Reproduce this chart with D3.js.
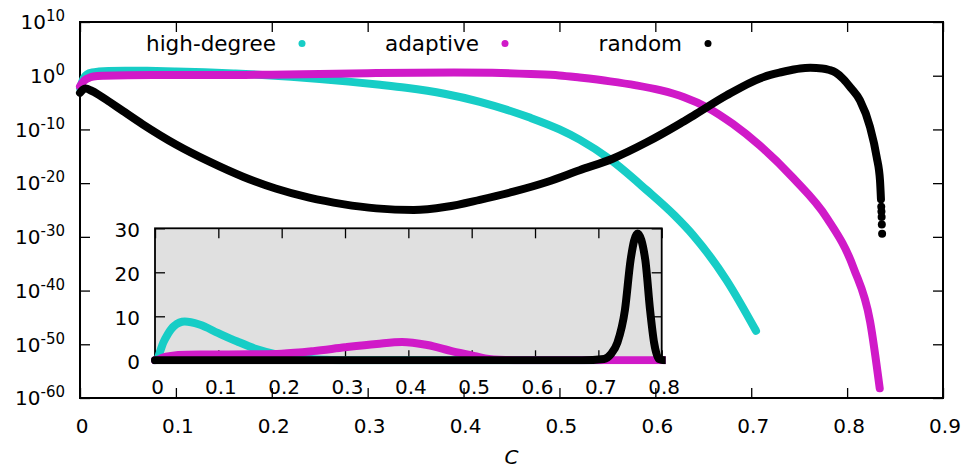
<!DOCTYPE html>
<html>
<head>
<meta charset="utf-8">
<script src="https://cdn.jsdelivr.net/npm/d3@7"></script>
<style>
  html, body { margin: 0; padding: 0; background: #ffffff; }
  svg { display: block; font-family: "DejaVu Sans", sans-serif; }
</style>
</head>
<body>
<svg id="chart" width="965" height="470"></svg>
<script>
// ---- data: C and log10 of the quantity for each strategy ----
const highDegreeC   = [0, 0.004, 0.008, 0.013, 0.02, 0.03, 0.047, 0.07, 0.1, 0.13, 0.16, 0.19, 0.22, 0.25, 0.28, 0.313, 0.34, 0.38, 0.417, 0.469, 0.5, 0.521, 0.553, 0.591, 0.62, 0.64, 0.674, 0.705];
const highDegreeLog = [-2.3, -0.4, 0.3, 0.6, 0.77, 0.89, 0.944, 0.91, 0.79, 0.63, 0.41, 0.15, -0.2, -0.62, -1.1, -1.7, -2.25, -3.35, -4.85, -7.8, -10.0, -11.9, -15.6, -21.3, -26.0, -29.8, -38.0, -47.5];

const adaptiveC   = [0, 0.004, 0.008, 0.014, 0.025, 0.05, 0.1, 0.15, 0.2, 0.25, 0.3, 0.35, 0.39, 0.43, 0.47, 0.5, 0.521, 0.553, 0.58, 0.605, 0.63, 0.654, 0.681, 0.709, 0.744, 0.779, 0.807, 0.824, 0.834];
const adaptiveLog = [-2.0, -1.0, -0.5, -0.15, 0.0, 0.1, 0.12, 0.14, 0.18, 0.32, 0.47, 0.57, 0.62, 0.54, 0.31, 0.05, -0.35, -1.05, -1.8, -2.7, -4.0, -5.9, -9.0, -13.0, -19.1, -26.5, -35.9, -45.8, -58.2];

const randomC   = [0, 0.003, 0.006, 0.012, 0.02, 0.031, 0.045, 0.065, 0.1, 0.135, 0.17, 0.204, 0.239, 0.274, 0.309, 0.348, 0.382, 0.417, 0.452, 0.487, 0.521, 0.556, 0.591, 0.626, 0.64, 0.674, 0.709, 0.72, 0.73, 0.742, 0.751, 0.7616, 0.774, 0.7816, 0.788, 0.796, 0.804, 0.8134, 0.8238, 0.8308, 0.8343, 0.8353];
const randomLog = [-3.2, -2.6, -2.4, -2.8, -3.6, -4.9, -6.6, -9.0, -12.8, -16.0, -18.8, -21.0, -22.7, -23.9, -24.7, -25.0, -24.4, -23.1, -21.6, -19.8, -17.6, -15.4, -12.4, -8.9, -7.4, -3.7, -0.5, 0.15, 0.6, 1.06, 1.36, 1.46, 1.36, 1.06, 0.6, -0.6, -2.3, -4.6, -9.5, -15.1, -19.5, -23.0];
// last, sparsely spaced points of the random curve
const randomTailC   = [0.8356, 0.8358, 0.836, 0.8362, 0.8365];
const randomTailLog = [-24.4, -25.3, -26.3, -27.7, -29.4];

// ---- axis ticks ----
const xTicksMain  = [0, 0.1, 0.2, 0.3, 0.4, 0.5, 0.6, 0.7, 0.8, 0.9];
const yExpMain    = [-60, -50, -40, -30, -20, -10, 0, 10];
const xTicksInset = [0, 0.1, 0.2, 0.3, 0.4, 0.5, 0.6, 0.7, 0.8];
const yTicksInset = [0, 10, 20, 30];

const seriesNames  = ["high-degree", "adaptive", "random"];
const seriesColors = ["#17cdc6", "#d01ac8", "#000000"];

const toPts = (cs, logs) => cs.map((c, i) => ({ c: c, v: Math.pow(10, logs[i]) }));
const series = [
  { name: seriesNames[0], color: seriesColors[0], pts: toPts(highDegreeC, highDegreeLog) },
  { name: seriesNames[1], color: seriesColors[1], pts: toPts(adaptiveC, adaptiveLog) },
  { name: seriesNames[2], color: seriesColors[2], pts: toPts(randomC, randomLog),
    tail: toPts(randomTailC, randomTailLog) }
];

const svg = d3.select("#chart");
const FS = 20;        // tick labels
const FS_KEY = 21.5;  // legend labels

// ---- main panel ----
const M = { left: 80, right: 943, top: 22, bottom: 398 };
const x = d3.scaleLinear().domain([0, 0.9]).range([M.left, M.right]);
const y = d3.scaleLog().domain([1e-60, 1e10]).range([M.bottom, M.top]);

const tickStyle = g => {
  g.select(".domain").remove();
  g.selectAll(".tick line").attr("stroke", "#000").attr("stroke-width", 1.3);
  g.selectAll(".tick text").remove();
};

const mainG = svg.append("g");
mainG.append("g").attr("transform", `translate(0,${M.bottom})`)
  .call(d3.axisBottom(x).tickValues(xTicksMain).tickSizeInner(-10).tickSizeOuter(0)).call(tickStyle);
mainG.append("g").attr("transform", `translate(0,${M.top})`)
  .call(d3.axisTop(x).tickValues(xTicksMain).tickSizeInner(-10).tickSizeOuter(0)).call(tickStyle);
const yTickVals = yExpMain.map(e => Math.pow(10, e));
mainG.append("g").attr("transform", `translate(${M.left},0)`)
  .call(d3.axisLeft(y).tickValues(yTickVals).tickSizeInner(-10).tickSizeOuter(0)).call(tickStyle);
mainG.append("g").attr("transform", `translate(${M.right},0)`)
  .call(d3.axisRight(y).tickValues(yTickVals).tickSizeInner(-10).tickSizeOuter(0)).call(tickStyle);

mainG.append("rect")
  .attr("x", M.left).attr("y", M.top)
  .attr("width", M.right - M.left).attr("height", M.bottom - M.top)
  .attr("fill", "none").attr("stroke", "#000").attr("stroke-width", 2);

// x tick labels
mainG.selectAll("text.xl").data(xTicksMain).join("text")
  .attr("class", "xl")
  .attr("x", d => x(d) + 2).attr("y", 432.5)
  .attr("text-anchor", "middle").attr("font-size", FS).attr("fill", "#000")
  .text(d => d3.format("")(d));

// y tick labels: 10 with superscript exponent
const yl = mainG.selectAll("text.yl").data(yExpMain).join("text")
  .attr("class", "yl")
  .attr("x", 65).attr("y", d => y(Math.pow(10, d)) + 7.3)
  .attr("text-anchor", "end").attr("font-size", FS).attr("fill", "#000");
yl.append("tspan").text("10");
yl.append("tspan").attr("dy", -8).attr("font-size", 15).text(d => String(d));

// axis title
svg.append("text")
  .attr("x", (M.left + M.right) / 2).attr("y", 464)
  .attr("text-anchor", "middle").attr("font-size", FS).attr("font-style", "italic")
  .text("C");

// main curves
svg.append("clipPath").attr("id", "mainClip").append("rect")
  .attr("x", M.left - 5).attr("y", M.top - 5)
  .attr("width", M.right - M.left + 10).attr("height", M.bottom - M.top + 10);

const mainLine = d3.line().x(d => x(d.c)).y(d => y(d.v)).curve(d3.curveMonotoneX);
const curvesG = svg.append("g").attr("clip-path", "url(#mainClip)");
series.forEach(s => {
  curvesG.append("path").datum(s.pts)
    .attr("d", mainLine)
    .attr("fill", "none").attr("stroke", s.color)
    .attr("stroke-width", 8).attr("stroke-linecap", "round").attr("stroke-linejoin", "round");
  if (s.tail) {
    curvesG.selectAll(null).data(s.tail).join("circle")
      .attr("cx", d => x(d.c)).attr("cy", d => y(d.v)).attr("r", 4)
      .attr("fill", s.color);
  }
});

// legend
const legendDotX = [302, 505, 708];
const legendY = 43.5;
const lg = svg.append("g");
series.forEach((s, i) => {
  lg.append("text")
    .attr("x", legendDotX[i] - 26).attr("y", legendY + 7.5)
    .attr("text-anchor", "end").attr("font-size", FS_KEY).attr("fill", "#000")
    .text(s.name);
  lg.append("circle")
    .attr("cx", legendDotX[i]).attr("cy", legendY).attr("r", 3.5)
    .attr("fill", s.color);
});

// ---- inset panel (linear scale) ----
const I = { left: 155, right: 661.7, top: 228.3, bottom: 360.3 };
const xi = d3.scaleLinear().domain([0, 0.8]).range([I.left, I.right]);
const yi = d3.scaleLinear().domain([0, 30]).range([I.bottom, I.top]);

const insetG = svg.append("g");
insetG.append("rect")
  .attr("x", I.left).attr("y", I.top)
  .attr("width", I.right - I.left).attr("height", I.bottom - I.top)
  .attr("fill", "#e0e0e0");

insetG.append("g").attr("transform", `translate(0,${I.bottom})`)
  .call(d3.axisBottom(xi).tickValues(xTicksInset).tickSizeInner(-10).tickSizeOuter(0)).call(tickStyle);
insetG.append("g").attr("transform", `translate(0,${I.top})`)
  .call(d3.axisTop(xi).tickValues(xTicksInset).tickSizeInner(-10).tickSizeOuter(0)).call(tickStyle);
insetG.append("g").attr("transform", `translate(${I.left},0)`)
  .call(d3.axisLeft(yi).tickValues(yTicksInset).tickSizeInner(-10).tickSizeOuter(0)).call(tickStyle);
insetG.append("g").attr("transform", `translate(${I.right},0)`)
  .call(d3.axisRight(yi).tickValues(yTicksInset).tickSizeInner(-10).tickSizeOuter(0)).call(tickStyle);

insetG.append("rect")
  .attr("x", I.left).attr("y", I.top)
  .attr("width", I.right - I.left).attr("height", I.bottom - I.top)
  .attr("fill", "none").attr("stroke", "#000").attr("stroke-width", 1.8);

insetG.selectAll("text.ixl").data(xTicksInset).join("text")
  .attr("class", "ixl")
  .attr("x", d => xi(d) + 2.5).attr("y", 394)
  .attr("text-anchor", "middle").attr("font-size", FS).attr("fill", "#000")
  .text(d => d3.format("")(d));
insetG.selectAll("text.iyl").data(yTicksInset).join("text")
  .attr("class", "iyl")
  .attr("x", 140).attr("y", d => yi(d) + 9)
  .attr("text-anchor", "end").attr("font-size", FS).attr("fill", "#000")
  .text(d => d);

svg.append("clipPath").attr("id", "insetClip").append("rect")
  .attr("x", I.left - 4).attr("y", I.top - 4)
  .attr("width", I.right - I.left + 8).attr("height", I.bottom - I.top + 8);

const insetLine = d3.line().x(d => xi(d.c)).y(d => yi(d.v)).curve(d3.curveMonotoneX);
const insetCurves = insetG.append("g").attr("clip-path", "url(#insetClip)");
series.forEach(s => {
  insetCurves.append("path").datum(s.pts)
    .attr("d", insetLine)
    .attr("fill", "none").attr("stroke", s.color)
    .attr("stroke-width", 8).attr("stroke-linecap", "round").attr("stroke-linejoin", "round");
});
</script>
</body>
</html>
